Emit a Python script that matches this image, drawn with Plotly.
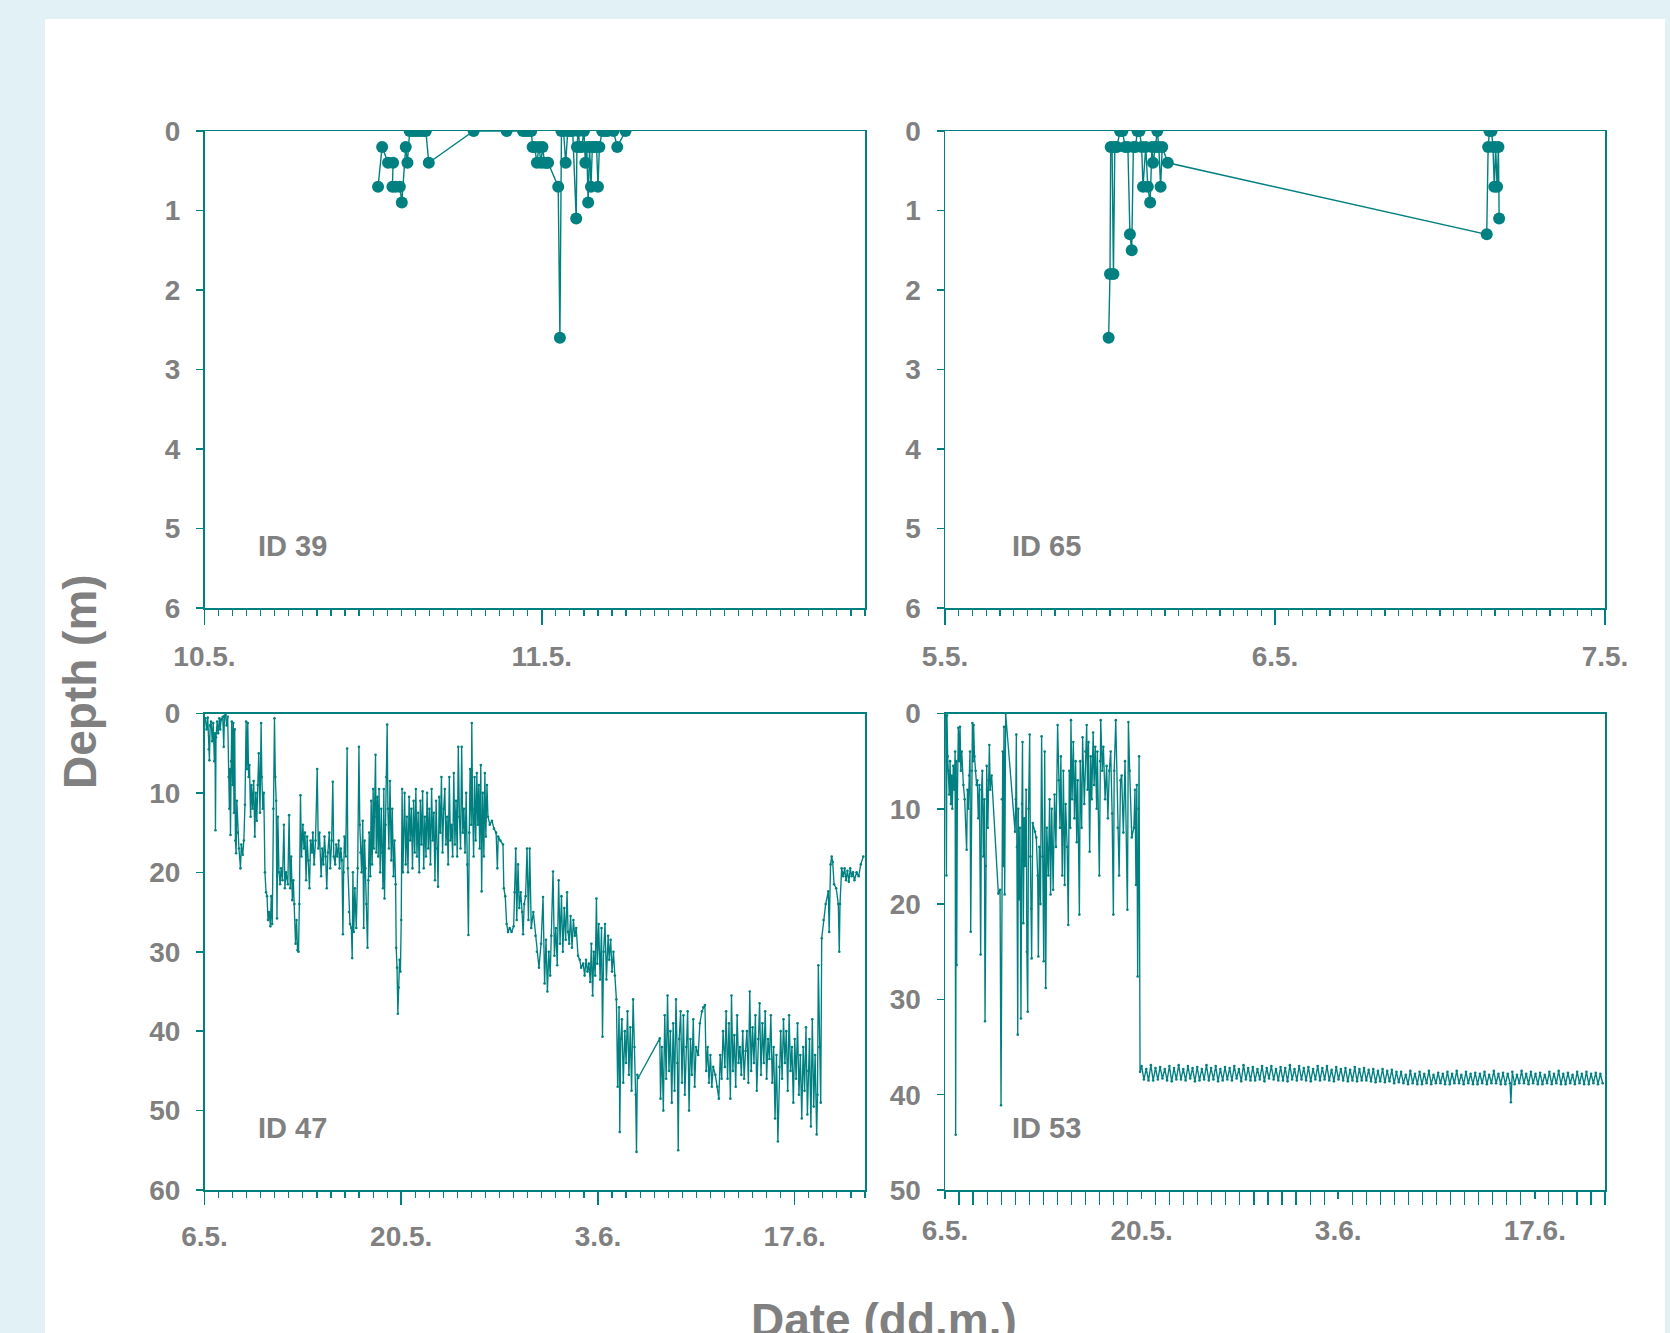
import pandas as pd
import plotly.graph_objects as go

TEAL = "#008080"
GRAY = "#808080"
BG = "#E1F1F5"
FONT = "Liberation Sans, Arial, sans-serif"

# ---------------- data ----------------
# ID 39: hours since 10.5. 00:00, depth (m)
ID39_hours = [12.35, 12.64, 13.06, 13.42, 13.37, 13.6, 13.9, 14.04, 14.32, 14.44, 14.6, 14.8, 15.0,
              15.2, 15.4, 15.6, 15.75, 15.96, 19.15, 21.5, 22.66, 22.85, 23.05, 23.25, 23.35, 23.5,
              23.65, 23.8, 23.95, 24.05, 24.2, 24.35, 24.45, 25.17, 25.29, 25.4, 25.55, 25.7, 25.85,
              26.0, 26.2, 26.45, 26.5, 26.6, 26.7, 26.85, 27.0, 27.1, 27.2, 27.3, 27.4, 27.5, 27.6,
              27.75, 27.9, 28.0, 28.1, 28.3, 28.5, 28.68, 29.1, 29.37, 29.96]
ID39_depth = [0.7, 0.2, 0.4, 0.4, 0.7, 0.7, 0.7, 0.9, 0.2, 0.4, 0.0, 0.0, 0.0,
              0.0, 0.0, 0.0, 0.0, 0.4, 0.0, 0.0, 0.0, 0.0, 0.0, 0.0, 0.2, 0.2,
              0.4, 0.2, 0.4, 0.2, 0.4, 0.4, 0.4, 0.7, 2.6, 0.0, 0.0, 0.4, 0.0,
              0.0, 0.0, 1.1, 0.2, 0.0, 0.2, 0.2, 0.0, 0.4, 0.2, 0.9, 0.2, 0.7, 0.2,
              0.2, 0.2, 0.7, 0.2, 0.0, 0.0, 0.0, 0.0, 0.2, 0.0]

# ID 65: hours since 5.5. 00:00, depth (m)
ID65_hours = [11.9, 12.0, 12.05, 12.15, 12.25, 12.35, 12.5, 12.73, 12.9, 13.1, 13.3, 13.45, 13.58,
              13.7, 13.85, 14.0, 14.15, 14.3, 14.4, 14.6, 14.75, 14.92, 15.05, 15.13, 15.3, 15.44,
              15.55, 15.68, 15.8, 16.2, 39.4, 39.5, 39.6, 39.75, 39.85, 39.95, 40.05, 40.15, 40.25, 40.3]
ID65_depth = [2.6, 1.8, 0.2, 0.2, 1.8, 0.2, 0.2, 0.0, 0.0, 0.2, 0.2, 1.3, 1.5,
              0.2, 0.2, 0.0, 0.0, 0.2, 0.7, 0.2, 0.7, 0.9, 0.2, 0.4, 0.2, 0.0,
              0.2, 0.7, 0.2, 0.4, 1.3, 0.2, 0.0, 0.0, 0.2, 0.7, 0.2, 0.7, 0.2, 1.1]

# ID 47: days since 6.5. 00:00, depth (m)
ID47_days = [
    0.06, 0.15, 0.23, 0.30, 0.35, 0.40, 0.47, 0.55, 0.62, 0.70, 0.75, 0.78, 0.82, 0.90, 0.97, 1.06,
    1.12, 1.18, 1.30, 1.37, 1.42, 1.50, 1.58, 1.65, 1.72, 1.77, 1.80, 1.85, 1.90, 1.94, 2.00, 2.05,
    2.10, 2.15, 2.20, 2.25, 2.30, 2.37, 2.45, 2.56, 2.62, 2.72, 2.80, 2.88, 2.96, 3.02, 3.08, 3.14,
    3.20, 3.28, 3.34, 3.42, 3.50, 3.58, 3.65, 3.72, 3.79, 3.86, 3.95, 4.03, 4.08, 4.15, 4.22, 4.30,
    4.38, 4.45, 4.52, 4.60, 4.69, 4.75, 4.82, 4.90, 4.98, 5.04, 5.10, 5.16, 5.22, 5.30, 5.38, 5.45,
    5.55, 5.65, 5.72, 5.80, 5.93, 6.02, 6.10, 6.17, 6.25, 6.32, 6.40, 6.48, 6.55, 6.62, 6.69, 6.75,
    6.83, 6.90, 7.00, 7.08, 7.15, 7.23, 7.30, 7.40, 7.47, 7.55, 7.65, 7.71, 7.80, 7.90, 8.02, 8.10,
    8.18, 8.30, 8.38, 8.46, 8.54, 8.62, 8.70, 8.78, 8.88, 8.95, 9.05, 9.13, 9.20, 9.30, 9.37, 9.45,
    9.55, 9.61, 9.70, 9.78, 9.85, 9.90, 9.96, 10.05, 10.15, 10.20, 10.28, 10.35, 10.45, 10.51, 10.56,
    10.62, 10.70, 10.80, 10.90, 10.99, 11.05, 11.10, 11.18, 11.26, 11.33, 11.39, 11.45, 11.52, 11.60,
    11.66, 11.72, 11.80, 11.86, 11.93, 12.00, 12.05, 12.10, 12.17, 12.22, 12.30, 12.36, 12.42, 12.50,
    12.58, 12.64, 12.70, 12.76, 12.81, 12.88, 12.94, 13.00, 13.05, 13.12, 13.20, 13.29, 13.36, 13.45,
    13.52, 13.60, 13.64, 13.70, 13.76, 13.82, 13.88, 13.94, 14.00, 14.06, 14.12, 14.24, 14.32, 14.40,
    14.48, 14.56, 14.64, 14.72, 14.80, 14.88, 14.96, 15.04, 15.12, 15.20, 15.28, 15.36, 15.44, 15.52,
    15.60, 15.68, 15.76, 15.84, 15.92, 16.00, 16.08, 16.16, 16.24, 16.32, 16.40, 16.48, 16.56, 16.62,
    16.70, 16.78, 16.86, 16.94, 17.02, 17.10, 17.18, 17.26, 17.34, 17.42, 17.50, 17.58, 17.66, 17.74,
    17.82, 17.90, 17.98, 18.06, 18.14, 18.22, 18.30, 18.38, 18.46, 18.54, 18.62, 18.70, 18.78, 18.84,
    18.90, 18.98, 19.02, 19.08, 19.15, 19.22, 19.30, 19.38, 19.45, 19.52, 19.58, 19.66, 19.72, 19.80,
    19.88, 19.95, 20.02, 20.10, 20.17, 20.30, 20.45, 20.60, 20.75, 20.84, 20.90, 21.05, 21.24, 21.30,
    21.40, 21.50, 21.60, 21.72, 21.85, 22.00, 22.07, 22.15, 22.22, 22.31, 22.40, 22.50, 22.60, 22.67,
    22.75, 22.85, 22.95, 23.05, 23.14, 23.25, 23.40, 23.55, 23.65, 23.80, 23.95, 24.09, 24.20, 24.30,
    24.40, 24.50, 24.60, 24.68, 24.80, 24.90, 25.00, 25.10, 25.20, 25.30, 25.40, 25.50, 25.60, 25.70,
    25.80, 25.87, 25.95, 26.05, 26.15, 26.25, 26.35, 26.45, 26.58, 26.70, 26.80, 26.95, 27.05, 27.15,
    27.25, 27.35, 27.45, 27.53, 27.62, 27.70, 27.80, 27.89, 27.95, 28.05, 28.15, 28.25, 28.32, 28.40,
    28.50, 28.60, 28.72, 28.80, 28.90, 29.00, 29.10, 29.20, 29.31, 29.40, 29.50, 29.55, 29.62, 29.70,
    29.80, 29.91, 30.00, 30.10, 30.20, 30.30, 30.39, 30.50, 30.60, 30.68, 30.74, 30.80, 30.86, 32.40,
    32.45, 32.55, 32.65, 32.75, 32.85, 32.95, 33.05, 33.15, 33.25, 33.35, 33.45, 33.55, 33.65, 33.71,
    33.78, 33.88, 33.98, 34.08, 34.18, 34.28, 34.38, 34.48, 34.58, 34.68, 34.78, 34.88, 34.98, 35.13,
    35.25, 35.40, 35.50, 35.61, 35.70, 35.80, 35.90, 36.00, 36.10, 36.20, 36.35, 36.50, 36.60, 36.70,
    36.80, 36.90, 37.03, 37.12, 37.22, 37.32, 37.42, 37.50, 37.60, 37.70, 37.80, 37.90, 38.00, 38.10,
    38.20, 38.30, 38.40, 38.50, 38.60, 38.70, 38.80, 38.90, 39.00, 39.10, 39.20, 39.30, 39.40, 39.50,
    39.60, 39.70, 39.80, 39.90, 40.00, 40.10, 40.20, 40.30, 40.40, 40.50, 40.60, 40.70, 40.80, 40.90,
    41.00, 41.10, 41.20, 41.30, 41.40, 41.50, 41.60, 41.70, 41.80, 41.90, 42.00, 42.10, 42.20, 42.30,
    42.40, 42.50, 42.60, 42.70, 42.80, 42.90, 42.97, 43.05, 43.15, 43.25, 43.35, 43.45, 43.56, 43.62,
    43.68, 43.75, 43.85, 43.92, 44.05, 44.20, 44.39, 44.45, 44.55, 44.63, 44.70, 44.80, 44.95, 45.10,
    45.17, 45.22, 45.34, 45.45, 45.55, 45.65, 45.75, 45.85, 45.95, 46.05, 46.15, 46.25, 46.40, 46.55,
    46.70, 46.88]
ID47_depth = [
    0.6, 2.0, 0.5, 4.5, 5.9, 1.5, 1.0, 3.5, 1.2, 6.0, 2.5, 14.7, 3.0, 1.0, 2.5, 0.6,
    2.0, 0.8, 0.4, 4.2, 0.3, 0.2, 1.5, 0.4, 8.0, 12.0, 7.0, 15.3, 6.0, 1.0, 9.0, 1.2,
    12.5, 2.0, 16.0, 17.6, 11.0, 15.0, 17.0, 19.5, 16.5, 17.8, 16.0, 11.5, 1.0, 7.0, 1.2, 8.0,
    6.5, 13.0, 9.0, 12.0, 8.5, 15.5, 10.0, 13.5, 9.0, 5.0, 12.5, 1.2, 8.0, 12.0, 10.0, 20.0,
    22.5, 23.0, 26.0, 25.0, 26.8, 23.0, 26.5, 12.0, 0.6, 8.0, 11.0, 25.8, 13.0, 20.0, 21.5, 19.5,
    21.0, 14.0, 22.0, 20.0, 21.5, 12.8, 22.0, 18.0, 23.5, 21.0, 24.0, 29.0, 26.0, 29.8, 30.0, 24.0,
    10.3, 18.0, 14.0, 17.0, 15.0, 21.0, 15.5, 18.5, 22.0, 16.0, 17.5, 15.0, 19.0, 16.0, 7.0, 17.0,
    15.0, 20.5, 17.0, 19.0, 15.5, 18.0, 22.0, 17.5, 15.0, 19.5, 16.0, 8.6, 18.0, 19.0, 16.5, 18.0,
    16.0, 19.5, 17.0, 18.5, 27.8, 20.0, 15.5, 18.0, 4.4, 19.5, 25.0, 26.5, 27.0, 30.8, 20.0,
    27.5, 22.0, 27.0, 19.5, 4.2, 14.0, 17.5, 20.0, 13.5, 27.0, 16.0, 19.5, 24.0, 29.5,
    21.0, 15.0, 20.5, 11.0, 19.0, 9.5, 17.0, 13.0, 5.2, 17.5, 10.5, 18.0, 9.5, 20.0,
    12.0, 17.5, 22.0, 9.5, 23.3, 14.0, 8.0, 1.4, 12.0, 17.0, 8.5, 18.5, 12.0, 20.5,
    16.0, 21.5, 29.5, 32.0, 37.8, 34.5, 31.0, 32.5, 26.0, 9.5, 20.0, 10.0, 19.0, 13.0,
    20.0, 10.5, 16.0, 12.0, 19.5, 11.0, 17.5, 9.5, 18.0, 12.5, 20.0, 11.0, 16.5, 9.8,
    19.5, 13.0, 18.0, 10.0, 17.0, 12.0, 19.0, 9.5, 16.0, 12.5, 21.0, 11.0, 17.0, 21.8,
    10.5, 15.0, 8.0, 17.5, 12.0, 9.5, 16.5, 13.0, 19.0, 8.0, 16.0, 14.0, 18.0, 7.5,
    16.5, 11.0, 18.0, 4.2, 13.0, 17.0, 4.2, 15.0, 12.0, 17.5, 10.0, 19.0, 27.9, 15.0,
    7.0, 14.0, 1.2, 12.0, 18.0, 8.0, 16.0, 7.5, 14.0, 9.0, 17.0, 6.5, 22.4, 10.0,
    18.0, 7.5, 15.5, 9.0, 13.0, 14.0, 13.5, 14.5, 15.0, 19.5, 15.5, 16.0, 16.5, 22.0,
    23.0, 26.5, 27.5, 27.0, 27.5, 26.8, 22.5, 17.0, 26.0, 19.0, 24.5, 22.5, 25.0, 27.8,
    24.0, 23.0, 17.0, 26.0, 17.0, 27.0, 25.0, 28.0, 30.0, 32.0, 29.0, 23.1, 34.0, 28.5,
    35.0, 30.0, 33.0, 28.0, 19.9, 30.5, 27.0, 31.7, 21.0, 29.0, 23.0, 30.0, 24.5, 28.5,
    22.5, 27.5, 29.0, 25.5, 29.5, 26.0, 28.0, 27.0, 30.5, 31.0, 32.0, 31.5, 33.0, 31.0,
    32.5, 31.5, 33.8, 29.0, 35.5, 30.0, 33.0, 23.3, 31.5, 26.5, 33.5, 27.0, 40.7, 30.0,
    26.5, 33.5, 28.0, 31.0, 28.5, 32.5, 30.0, 33.0, 36.0, 47.0, 37.0, 52.7, 41.0, 38.5,
    46.5, 40.0, 44.0, 37.5, 45.5, 39.5, 47.5, 36.0, 42.0, 48.0, 55.2, 45.5, 45.9, 40.9,
    48.5, 42.0, 50.0, 38.0, 46.0, 35.5, 45.0, 40.0, 49.0, 39.0, 47.5, 36.0, 44.0, 55.0,
    41.0, 37.5, 46.5, 38.0, 48.0, 42.0, 37.5, 50.0, 41.0, 45.5, 38.5, 47.0, 42.0, 43.0,
    39.0, 37.5, 37.0, 36.7, 45.0, 42.0, 46.5, 43.0, 47.0, 44.5, 45.5, 47.0, 48.5, 43.0,
    46.0, 40.0, 44.5, 37.5, 46.0, 39.0, 48.5, 35.5, 45.0, 40.5, 47.0, 38.0, 44.0, 42.0,
    45.5, 40.0, 46.0, 42.5, 40.0, 46.5, 35.0, 45.0, 39.5, 44.0, 38.0, 47.5, 41.0, 36.5,
    45.5, 39.0, 44.0, 37.5, 46.0, 41.0, 43.5, 38.0, 46.5, 42.0, 51.0, 43.0, 53.9, 44.5,
    40.0, 46.0, 38.5, 44.0, 40.0, 47.5, 38.0, 45.0, 42.0, 49.0, 41.0, 46.0, 39.0, 48.0,
    43.0, 51.0, 42.0, 47.5, 39.5, 50.5, 45.0, 41.0, 52.0, 38.5, 49.5, 43.0, 53.0, 48.0,
    31.7, 42.0, 49.0, 28.3, 26.0, 24.0, 22.4, 27.5, 19.0, 18.0, 18.7, 21.5, 22.0, 24.0,
    30.0, 24.0, 19.5, 20.5, 19.5, 21.0, 19.8, 21.2, 19.5, 20.5, 20.0, 21.0, 20.0, 20.5,
    19.0, 18.0]

# ID 53: irregular part, days since 6.5. 00:00, depth (m)
ID53_days = [
    0.00, 0.05, 0.10, 0.14, 0.19, 0.25, 0.30, 0.36, 0.42, 0.47, 0.52, 0.59, 0.66, 0.72, 0.76, 0.80,
    0.83, 0.88, 0.95, 1.02, 1.07, 1.13, 1.19, 1.31, 1.40, 1.54, 1.60, 1.66, 1.72, 1.78, 1.83, 1.89,
    1.95, 2.00, 2.04, 2.10, 2.18, 2.25, 2.30, 2.37, 2.45, 2.54, 2.60, 2.66, 2.73, 2.80, 2.85, 2.90,
    2.97, 3.05, 3.10, 3.16, 3.22, 3.32, 3.80, 3.92, 3.99, 4.05, 4.11, 4.16, 4.20, 4.25, 4.32, 4.99,
    5.04, 5.08, 5.12, 5.18, 5.22, 5.27, 5.34, 5.41, 5.48, 5.52, 5.58, 5.64, 5.70, 5.78, 5.83, 5.89,
    5.95, 6.03, 6.08, 6.14, 6.17, 6.25, 6.41, 6.50, 6.60, 6.65, 6.72, 6.80, 6.88, 6.95, 7.03, 7.10,
    7.17, 7.25, 7.36, 7.45, 7.52, 7.60, 7.70, 7.80, 7.90, 8.02, 8.10, 8.19, 8.25, 8.35, 8.43, 8.52,
    8.59, 8.70, 8.78, 8.85, 8.92, 8.97, 9.05, 9.14, 9.22, 9.30, 9.38, 9.45, 9.57, 9.63, 9.73, 9.80,
    9.92, 10.00, 10.09, 10.15, 10.22, 10.30, 10.38, 10.45, 10.55, 10.62, 10.70, 10.80, 10.85, 10.99,
    11.05, 11.09, 11.20, 11.28, 11.40, 11.51, 11.60, 11.70, 11.80, 11.90, 11.99, 12.05, 12.16, 12.30,
    12.40, 12.50, 12.58, 12.70, 12.82, 12.99, 13.06, 13.15, 13.30, 13.45, 13.53, 13.60, 13.66, 13.72,
    13.78, 13.82, 13.89, 40.30]
ID53_depth = [
    0.0, 0.3, 17.0, 0.2, 4.5, 6.0, 8.5, 5.0, 9.5, 6.5, 10.0, 5.5, 8.0, 4.0, 44.2, 5.0,
    26.4, 9.0, 1.5, 5.0, 1.4, 6.0, 4.0, 7.5, 9.0, 14.3, 8.0, 10.0, 6.5, 4.0, 22.9, 6.0,
    1.0, 5.0, 1.2, 4.5, 6.0, 7.5, 7.0, 11.0, 7.5, 25.3, 8.0, 6.0, 15.0, 9.0, 32.3, 16.0,
    5.5, 12.0, 7.0, 3.3, 8.0, 6.5, 18.9, 18.5, 41.1, 9.0, 4.0, 16.0, 1.4, 19.0, 0.0, 12.4,
    9.0, 2.2, 14.0, 33.7, 10.0, 19.5, 12.0, 32.0, 9.5, 3.0, 22.0, 11.0, 16.0, 8.0, 25.0, 31.3,
    10.0, 2.2, 15.0, 20.5, 25.7, 11.5, 12.4, 13.0, 17.0, 25.5, 14.0, 20.0, 2.4, 15.0, 26.0, 4.0,
    28.8, 12.0, 17.0, 9.0, 19.0, 10.0, 18.5, 8.5, 14.0, 1.2, 7.0, 12.0, 4.5, 17.0, 6.0, 18.0,
    9.5, 14.0, 22.2, 6.0, 12.0, 0.7, 9.0, 3.0, 11.0, 5.0, 13.5, 7.0, 21.1, 5.0, 12.0, 2.5,
    9.5, 4.0, 1.2, 8.0, 3.0, 14.5, 4.5, 9.0, 2.0, 7.5, 3.5, 10.0, 4.0, 17.0,
    5.0, 0.7, 6.0, 3.5, 9.0, 5.5, 11.0, 6.0, 4.0, 10.5, 21.1, 6.0, 0.7, 12.0,
    17.0, 7.0, 6.5, 12.5, 5.0, 20.6, 0.9, 6.0, 13.0, 12.0, 8.0, 18.0, 7.5, 27.6,
    10.0, 4.5, 37.6, 40.8]

# ID 53: regular (tidal) part, sampled every 0.165 day starting at day 14.0
ID53_WAVE_START = 14.0
ID53_WAVE_STEP = 0.165
ID53_wave = [
    37.0, 38.4, 37.3, 38.5, 36.9, 38.5, 37.2, 38.4,
    37.1, 38.3, 37.3, 38.5, 37.0, 38.6, 37.2, 38.4,
    36.9, 38.4, 37.3, 38.5, 37.0, 38.3, 37.2, 38.6,
    37.1, 38.5, 37.3, 38.4, 36.9, 38.5, 37.2, 38.4,
    37.0, 38.6, 37.3, 38.5, 37.1, 38.4, 37.2, 38.5,
    37.0, 38.3, 37.3, 38.6, 36.9, 38.4, 37.2, 38.5,
    37.1, 38.5, 37.3, 38.4, 37.0, 38.6, 37.2, 38.3,
    37.0, 38.4, 37.3, 38.5, 37.1, 38.5, 37.2, 38.6,
    36.9, 38.4, 37.3, 38.5, 37.0, 38.4, 37.2, 38.5,
    37.1, 38.6, 37.3, 38.4, 37.0, 38.5, 37.2, 38.4,
    37.0, 38.5, 37.4, 38.6, 37.1, 38.4, 37.3, 38.5,
    37.2, 38.6, 37.4, 38.5, 37.1, 38.6, 37.3, 38.5,
    37.2, 38.5, 37.4, 38.6, 37.3, 38.7, 37.5, 38.6,
    37.3, 38.7, 37.5, 38.6, 37.4, 38.8, 37.6, 38.7,
    37.6, 38.8, 37.9, 38.9, 37.5, 38.8, 37.8, 38.9,
    37.6, 38.9, 37.8, 38.8, 37.5, 38.9, 37.9, 38.8,
    37.7, 38.8, 37.8, 38.9, 37.6, 38.9, 37.8, 38.8,
    37.5, 38.8, 37.9, 38.9, 37.6, 38.8, 37.8, 38.9,
    37.7, 38.9, 37.8, 38.8, 37.6, 38.9, 37.9, 38.8,
    37.5, 38.8, 37.8, 38.9, 37.7, 38.9, 37.8, 38.8,
    37.6, 38.9, 37.9, 38.8, 37.5, 38.8, 37.8, 38.9,
    37.6, 38.8, 37.8, 38.9, 37.7, 38.9, 37.9, 38.8,
    37.6, 38.9, 37.8, 38.8, 37.5, 38.9, 37.8, 38.9,
    37.7, 38.8, 37.9, 38.9, 37.6, 38.8, 37.8, 38.9,
    37.6, 38.9, 37.8, 38.8, 37.7, 38.9, 37.8, 38.8]

# ---------------- build ----------------
W, H = 1670, 1333

def px_x(p):
    return p / W

def px_y(p):
    return 1 - p / H

t39 = pd.Timestamp("2010-05-10") + pd.to_timedelta(ID39_hours, unit="h")
t65 = pd.Timestamp("2010-05-05") + pd.to_timedelta(ID65_hours, unit="h")
t47 = pd.Timestamp("2010-05-06") + pd.to_timedelta(ID47_days, unit="D")

wave_days = [ID53_WAVE_START + i * ID53_WAVE_STEP for i in range(len(ID53_wave))]
df53 = pd.DataFrame({"d": ID53_days + wave_days, "v": ID53_depth + ID53_wave}).sort_values("d")
t53 = pd.Timestamp("2010-05-06") + pd.to_timedelta(df53["d"].values, unit="D")

fig = go.Figure()

big = dict(mode="lines+markers", line=dict(color=TEAL, width=1.4),
           marker=dict(color=TEAL, size=12), showlegend=False, hoverinfo="skip")
small = dict(mode="lines+markers", line=dict(color=TEAL, width=1.35),
             marker=dict(color=TEAL, size=2.6), showlegend=False, hoverinfo="skip")

fig.add_trace(go.Scatter(x=t39, y=ID39_depth, xaxis="x", yaxis="y", **big))
fig.add_trace(go.Scatter(x=t65, y=ID65_depth, xaxis="x2", yaxis="y2", **big))
fig.add_trace(go.Scatter(x=t47, y=ID47_depth, xaxis="x3", yaxis="y3", **small))
fig.add_trace(go.Scatter(x=t53, y=df53["v"].values, xaxis="x4", yaxis="y4", **small))

tickfont = dict(family=FONT, size=28, color=GRAY, weight="bold")

def xax(domain, anchor, rng, tick0, dtick, mdtick, mlen, mjlen):
    return dict(domain=domain, anchor=anchor, type="date", range=rng, tick0=tick0, dtick=dtick,
                tickformat="%-d.%-m.", ticks="outside", ticklen=mjlen, tickwidth=1.5, tickcolor=TEAL,
                showline=True, linecolor=TEAL, linewidth=1.5, mirror=True, showgrid=False,
                zeroline=False, tickfont=tickfont, ticklabelstandoff=8, automargin=False,
                fixedrange=True,
                minor=dict(dtick=mdtick, ticks="outside", ticklen=mlen, tickwidth=1.2,
                           tickcolor=TEAL, showgrid=False))

def yax(domain, anchor, rng, dtick):
    return dict(domain=domain, anchor=anchor, range=rng, dtick=dtick, tick0=0,
                ticks="outside", ticklen=7, tickwidth=1.5, tickcolor=TEAL,
                showline=True, linecolor=TEAL, linewidth=1.5, mirror=True, showgrid=False,
                zeroline=False, tickfont=tickfont, ticklabelstandoff=10, automargin=False,
                fixedrange=True)

DAY = 86400000
HOUR = 3600000
xL = [px_x(204.5), px_x(865)]
xR = [px_x(945), px_x(1605)]
yT = [px_y(608), px_y(131)]
yB = [px_y(1190), px_y(713.5)]

fig.update_layout(
    width=W, height=H, autosize=False,
    margin=dict(l=0, r=0, t=0, b=0, pad=0, autoexpand=False),
    paper_bgcolor=BG, plot_bgcolor="rgba(0,0,0,0)",
    hovermode=False,
    xaxis=xax(xL, "y", ["2010-05-10 00:00", "2010-05-11 23:00"], "2010-05-10", DAY, HOUR, 6, 15),
    yaxis=yax(yT, "x", [6, 0], 1),
    xaxis2=xax(xR, "y2", ["2010-05-05 00:00", "2010-05-07 00:00"], "2010-05-05", DAY, HOUR, 6, 15),
    yaxis2=yax(yT, "x2", [6, 0], 1),
    xaxis3=xax(xL, "y3", ["2010-05-06", "2010-06-22"], "2010-05-06", 14 * DAY, DAY, 6, 13),
    yaxis3=yax(yB, "x3", [60, 0], 10),
    xaxis4=xax(xR, "y4", ["2010-05-06", "2010-06-22"], "2010-05-06", 14 * DAY, DAY, 13, 7),
    yaxis4=yax(yB, "x4", [50, 0], 10),
    shapes=[dict(type="rect", xref="paper", yref="paper", x0=px_x(45), x1=px_x(1665),
                 y0=-0.05, y1=px_y(19), fillcolor="white", line=dict(width=0), layer="below")],
)

idfont = dict(family=FONT, size=29, color=GRAY, weight="bold")
labels = [("ID 39", 256, 546), ("ID 65", 1010, 546), ("ID 47", 256, 1128), ("ID 53", 1010, 1128)]
for txt, lx, ly in labels:
    fig.add_annotation(text=txt, xref="paper", yref="paper", x=px_x(lx), y=px_y(ly),
                       xanchor="left", yanchor="middle", showarrow=False, font=idfont)

titlefont = dict(family=FONT, size=46, color=GRAY, weight="bold")
fig.add_annotation(text="Depth (m)", xref="paper", yref="paper", x=px_x(80), y=px_y(682),
                   xanchor="center", yanchor="middle", textangle=-90, showarrow=False, font=titlefont)
fig.add_annotation(text="Date (dd.m.)", xref="paper", yref="paper", x=px_x(884), y=px_y(1292),
                   xanchor="center", yanchor="top", showarrow=False, font=titlefont)

fig.write_html("out.html", config={"displayModeBar": False, "staticPlot": True},
               post_script="document.body.style.margin='0px';"
                           "document.body.style.background='" + BG + "';")
